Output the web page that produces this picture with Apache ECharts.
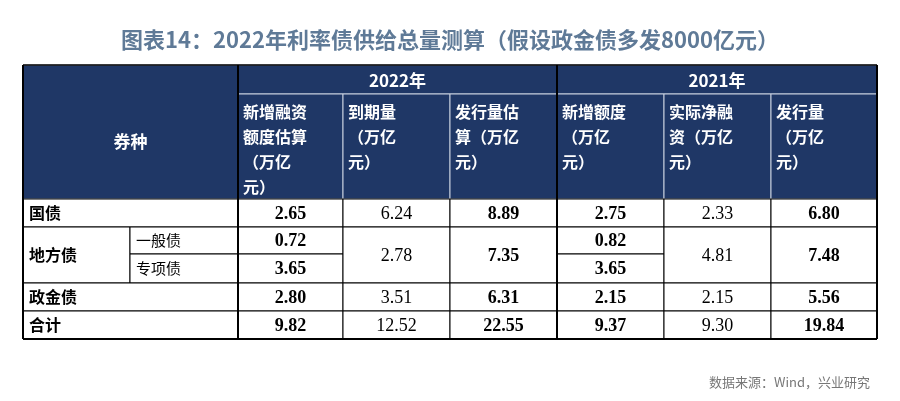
<!DOCTYPE html><html><head><meta charset="utf-8">
<script src="https://cdn.jsdelivr.net/npm/echarts@6/dist/echarts.min.js"></script>
<style>html,body{margin:0;background:#fff}#c{width:900px;height:401px}</style></head><body><div id="c"></div>
<script>
const title = '图表14：2022年利率债供给总量测算（假设政金债多发8000亿元）';
const source = '数据来源：Wind，兴业研究';
const years = ['2022年', '2021年'];
const headers = ['新增融资\n额度估算\n（万亿\n元）', '到期量\n（万亿\n元）', '发行量估\n算（万亿\n元）', '新增额度\n（万亿\n元）', '实际净融\n资（万亿\n元）', '发行量\n（万亿\n元）'];
const typeLabel = '券种';
const rowNames = ['国债', '一般债', '专项债', '政金债', '合计'];
const localName = '地方债';
const colNew22 = ['2.65', '0.72', '3.65', '2.80', '9.82'];
const colDue22 = ['6.24', '2.78', null, '3.51', '12.52'];
const colIss22 = ['8.89', '7.35', null, '6.31', '22.55'];
const colNew21 = ['2.75', '0.82', '3.65', '2.15', '9.37'];
const colNet21 = ['2.33', '4.81', null, '2.15', '9.30'];
const colIss21 = ['6.80', '7.48', null, '5.56', '19.84'];
const cols = [colNew22, colDue22, colIss22, colNew21, colNet21, colIss21];
const boldCol = [true, false, true, true, false, true];

const X = [23, 238, 343, 450, 557, 664, 771, 877];
const XS = 130;
const HY = [65, 94, 199];
const RY = [199, 227, 254, 283, 311, 339];
const NAVY = '#1f3766';
const g = [];
function cell(x0, x1, y0, y1, fill, stroke, lw) {
  g.push({type: 'rect', shape: {x: x0, y: y0, width: x1 - x0, height: y1 - y0}, style: {fill: fill, stroke: stroke, lineWidth: lw}});
}
function txt(x, y, s, st) {
  g.push({type: 'text', x: x, y: y, style: Object.assign({text: s, fill: '#000'}, st)});
}
g.push({type: 'text', x: 450, y: 40, style: {text: title, fill: '#5f7a97', font: 'bold 22px "Noto Sans CJK SC"', align: 'center', verticalAlign: 'middle'}});
cell(X[0], X[1], HY[0], HY[2], NAVY, '#c9d0de', 1);
txt((X[0] + X[1]) / 2, (HY[0] + HY[2]) / 2 + 10, typeLabel, {fill: '#fff', font: 'bold 17px "Noto Sans CJK SC"', align: 'center', verticalAlign: 'middle', letterSpacing: 3});
years.forEach((y, k) => {
  cell(X[1 + 3 * k], X[4 + 3 * k], HY[0], HY[1], NAVY, '#c9d0de', 1);
  txt((X[1 + 3 * k] + X[4 + 3 * k]) / 2, (HY[0] + HY[1]) / 2 + 1, y, {fill: '#fff', font: 'bold 17px "Noto Sans CJK SC"', align: 'center', verticalAlign: 'middle'});
});
headers.forEach((h, i) => {
  cell(X[i + 1], X[i + 2], HY[1], HY[2], NAVY, '#c9d0de', 1);
  txt(X[i + 1] + 5, HY[1] + 5, h, {fill: '#fff', font: 'bold 16px "Noto Sans CJK SC"', lineHeight: 25, align: 'left', verticalAlign: 'top', letterSpacing: 4});
});
const lab = {font: 'bold 16px "Noto Sans CJK SC"', verticalAlign: 'middle', align: 'left', letterSpacing: 3};
function rowLabel(x0, x1, y0, y1, s, bold) {
  cell(x0, x1, y0, y1, '#fff', '#000', 1);
  txt(x0 + 6, (y0 + y1) / 2, s, Object.assign({}, lab, bold ? {} : {font: '15px "Noto Sans CJK SC"'}));
}
rowLabel(X[0], X[1], RY[0], RY[1], rowNames[0], true);
rowLabel(X[0], XS, RY[1], RY[3], localName, true);
rowLabel(XS, X[1], RY[1], RY[2], rowNames[1], false);
rowLabel(XS, X[1], RY[2], RY[3], rowNames[2], false);
rowLabel(X[0], X[1], RY[3], RY[4], rowNames[3], true);
rowLabel(X[0], X[1], RY[4], RY[5], rowNames[4], true);
cols.forEach((col, c) => {
  col.forEach((v, r) => {
    if (v === null) return;
    const y0 = RY[r];
    const y1 = (r === 1 && col[2] === null) ? RY[3] : RY[r + 1];
    cell(X[c + 1], X[c + 2], y0, y1, '#fff', '#000', 1);
    txt((X[c + 1] + X[c + 2]) / 2, (y0 + y1) / 2 + 1, v, {font: (boldCol[c] ? 'bold ' : '') + '18px "Liberation Serif"', align: 'center', verticalAlign: 'middle'});
  });
});
[X[0], X[1], X[4], X[7]].forEach(x => g.push({type: 'line', shape: {x1: x, y1: HY[0], x2: x, y2: RY[5]}, style: {stroke: '#000', lineWidth: 2}}));
g.push({type: 'line', shape: {x1: X[0], y1: RY[5], x2: X[7], y2: RY[5]}, style: {stroke: '#000', lineWidth: 2}});
g.push({type: 'line', shape: {x1: X[0], y1: HY[0], x2: X[7], y2: HY[0]}, style: {stroke: '#000', lineWidth: 1.5}});
g.push({type: 'text', x: 870, y: 382, style: {text: source, fill: '#777', font: '13px "Noto Sans CJK SC"', align: 'right', verticalAlign: 'middle'}});
const chart = echarts.init(document.getElementById('c'));
chart.setOption({animation: false, graphic: g});
</script></body></html>
